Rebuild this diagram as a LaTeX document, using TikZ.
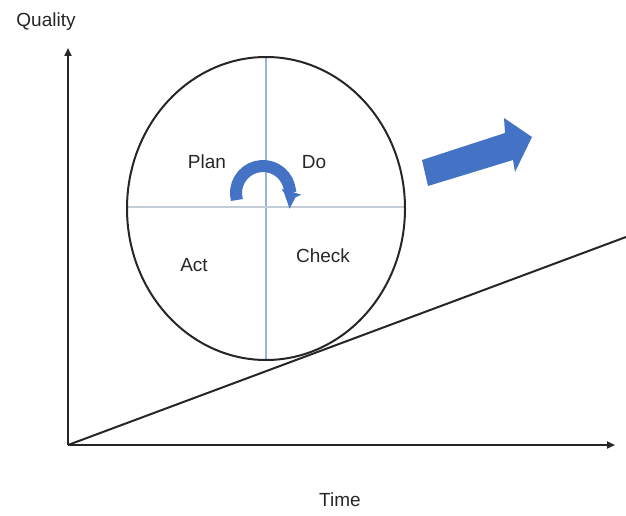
\documentclass[tikz,border=0pt]{standalone}
\usepackage{fontspec}
\setmainfont{Liberation Sans}
\usetikzlibrary{arrows.meta}
\definecolor{pdcablue}{RGB}{68,114,196}
\definecolor{divv}{RGB}{150,180,215}
\definecolor{divh}{RGB}{195,205,215}
\begin{document}
\begin{tikzpicture}[x=1pt,y=-1pt,
  axis/.style={line width=2.4pt,draw=black!85,-{Triangle[length=8pt,width=7pt]}},
  lbl/.style={font=\fontsize{19}{22}\selectfont, text=black!85, inner sep=0pt}]
\useasboundingbox (0,0) rectangle (626,516);
% axes
\coordinate (O) at (68,445);
\coordinate (Ytop) at (68,48);
\coordinate (Xend) at (615,445);
\coordinate (Dend) at (626,237);
\draw[axis] (O) -- (Ytop);
\draw[axis] (O) -- (Xend);
\draw[line width=2pt,black!85] (O) -- (Dend);
% circle
\coordinate (C) at (266,208.5);
\draw[divv,line width=1.2pt] (266,57) -- (266,360);
\draw[divh,line width=2pt] (127,207) -- (405,207);
\draw[line width=2pt,black!85] (C) ellipse [x radius=139, y radius=151.5];
% labels
\node[lbl] (plan) at (207,162) {Plan};
\node[lbl] (do) at (314,162) {Do};
\node[lbl] (act) at (194,265) {Act};
\node[lbl] (check) at (323,256) {Check};
\node[lbl] (q) at (46,22) {Quality};
\node[lbl] (t) at (340,500) {Time};
% curved arrow
\draw[pdcablue,line width=12pt,-{Triangle[length=9pt,width=20pt]}]
  (263,193) ++(165:27) arc[start angle=165,end angle=376,radius=27];
% big arrow
\fill[pdcablue] (422,160) -- (505,133) -- (504,118) -- (532,137)
  -- (515,172) -- (513,160) -- (428,186) -- cycle;
\end{tikzpicture}
\end{document}
